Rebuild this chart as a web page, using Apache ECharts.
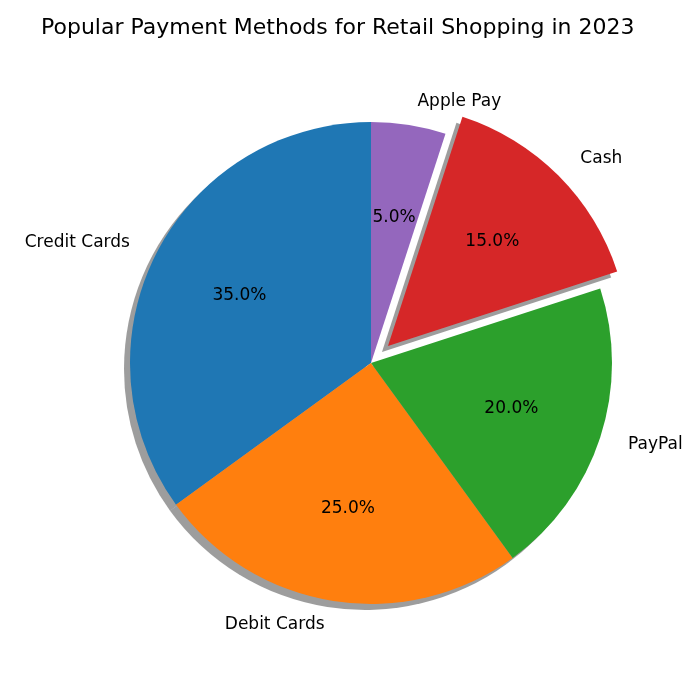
<!DOCTYPE html>
<html><head><meta charset="utf-8">
<script src="https://cdn.jsdelivr.net/npm/echarts@6/dist/echarts.min.js"></script>
<style>html,body{margin:0;padding:0;background:#fff}#c{width:700px;height:700px}</style>
</head><body><div id="c"></div>
<script>
const categories = ['Credit Cards','Debit Cards','PayPal','Cash','Apple Pay'];
const values = [35,25,20,15,5];
const colors = ['#1f77b4','#ff7f0e','#2ca02c','#d62728','#9467bd'];
const exploded = 'Cash';
const R = 241, C = [371,363];
function mk(extra){return categories.map((n,i)=>Object.assign({name:n,value:values[i],selected:n===exploded},extra?extra(i):{}));}
const base = {type:'pie',startAngle:90,clockwise:false,selectedMode:'multiple',selectedOffset:24,
  avoidLabelOverlap:false,emphasis:{disabled:true},animation:false};
const chart = echarts.init(document.getElementById('c'));
chart.setOption({
  title:{text:'Popular Payment Methods for Retail Shopping in 2023',left:36,top:12,
    textStyle:{fontFamily:'DejaVu Sans',fontSize:22,fontWeight:'normal',color:'#000'}},
  series:[
    Object.assign({},base,{silent:true,center:[C[0]-6,C[1]+6],radius:[0,R],
      data:mk(()=>({itemStyle:{color:'rgba(60,60,60,0.5)'}})),label:{show:false},labelLine:{show:false}}),
    Object.assign({},base,{center:C,radius:[0,R],
      data:mk(i=>({itemStyle:{color:colors[i]}})),
      label:{show:true,position:'outside',formatter:'{b}',fontFamily:'DejaVu Sans',fontSize:17,color:'#000',alignTo:'none'},
      labelLine:{show:false,length:24,length2:0}}),
    Object.assign({},base,{silent:true,center:C,radius:[0,R*1.2],
      data:mk(()=>({itemStyle:{color:'rgba(0,0,0,0)'}})),
      label:{show:true,position:'inner',formatter:p=>p.value.toFixed(1)+'%',fontFamily:'DejaVu Sans',fontSize:17,color:'#000'},
      labelLine:{show:false}})
  ]
});
</script></body></html>
